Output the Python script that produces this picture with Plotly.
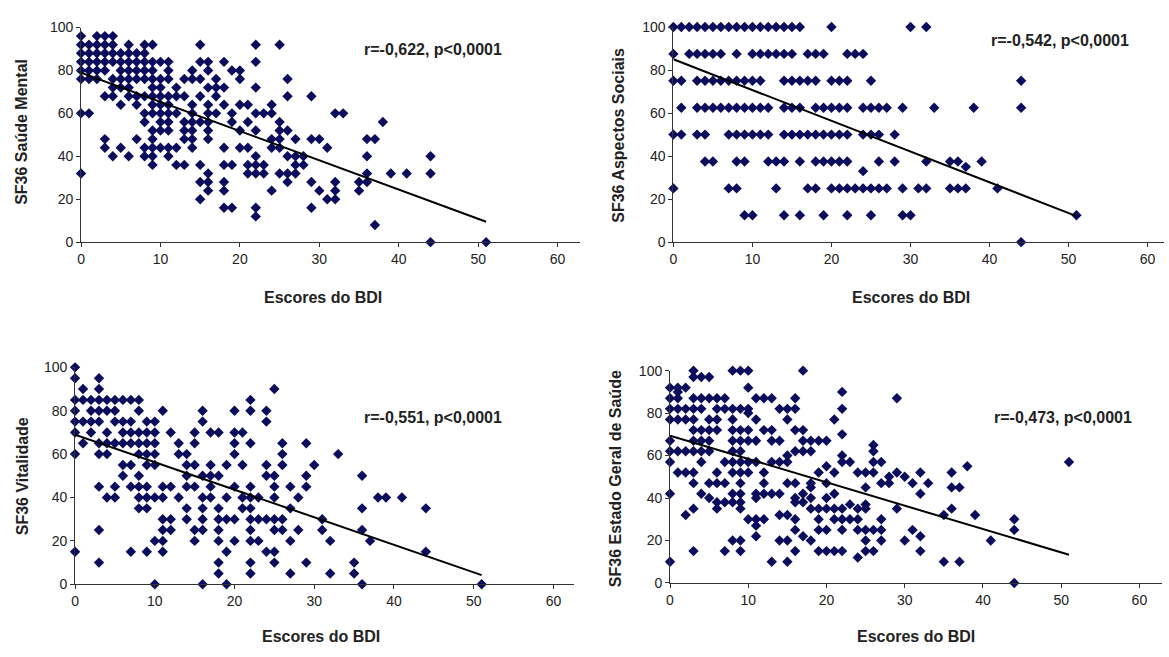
import plotly.graph_objects as go

# ---------------- DATA ----------------
# Each dict: SF36 score -> list of BDI scores having that SF36 score
mental_rows = {
    96: [0, 2, 3, 4],
    92: [0, 1, 2, 3, 4, 6, 8, 9, 15, 22, 25],
    88: [0, 1, 2, 3, 4, 5, 6, 7, 8],
    84: [0, 1, 2, 3, 4, 5, 6, 7, 8, 9, 10, 11, 15, 16, 18, 22],
    80: [0, 1, 2, 3, 5, 6, 7, 8, 9, 11, 14, 16, 19, 20],
    76: [0, 1, 2, 4, 5, 6, 7, 8, 9, 10, 11, 13, 14, 15, 17, 20, 26],
    72: [4, 5, 6, 9, 10, 12, 16, 17, 18, 22],
    68: [3, 4, 6, 7, 8, 9, 10, 11, 12, 13, 15, 17, 26, 29],
    64: [5, 7, 9, 10, 11, 14, 16, 18, 20, 21, 24],
    60: [0, 1, 8, 9, 10, 11, 12, 14, 16, 17, 19, 22, 23, 24, 32, 33],
    56: [8, 10, 11, 13, 14, 15, 16, 19, 21, 25, 38],
    52: [9, 10, 11, 13, 14, 16, 20, 22, 25, 26],
    48: [3, 7, 9, 13, 14, 16, 24, 25, 27, 29, 30, 36, 37],
    44: [3, 5, 8, 9, 10, 11, 12, 14, 18, 20, 21, 24, 25, 31],
    40: [4, 6, 8, 9, 11, 22, 26, 27, 28, 36, 44],
    36: [9, 12, 13, 15, 18, 19, 21, 22, 23, 27, 28],
    32: [0, 16, 21, 22, 23, 25, 26, 27, 36, 39, 41, 44],
    28: [15, 16, 18, 26, 29, 32, 35, 36],
    24: [16, 18, 24, 30, 32, 35],
    20: [15, 31, 32],
    16: [18, 19, 22, 29],
    12: [22],
    8: [37],
    0: [44, 51],
}

social_rows = {
    100: [0, 1, 2, 3, 4, 5, 6, 7, 8, 9, 10, 11, 12, 13, 14, 15, 16, 20, 30, 32],
    87.5: [0, 2, 3, 4, 5, 6, 8, 10, 11, 12, 13, 14, 15, 17, 18, 19, 22, 23, 24],
    75: [0, 1, 3, 4, 5, 6, 7, 8, 9, 10, 11, 14, 15, 16, 17, 18, 20, 21, 22, 25, 44],
    62.5: [1, 3, 4, 5, 6, 7, 8, 9, 10, 11, 12, 14, 15, 16, 18, 19, 20, 21, 22, 24,
           25, 26, 27, 29, 33, 38, 44],
    50: [0, 1, 3, 4, 7, 8, 9, 10, 11, 12, 14, 15, 16, 17, 18, 19, 20, 21, 22, 24,
         25, 26, 28],
    37.5: [4, 5, 8, 9, 12, 13, 14, 16, 18, 19, 20, 21, 22, 26, 28, 32, 35, 36, 39],
    35: [37],
    33: [24],
    25: [0, 7, 8, 13, 17, 18, 20, 21, 22, 23, 24, 25, 26, 27, 29, 31, 32, 35, 36,
         37, 41],
    12.5: [9, 10, 14, 16, 19, 22, 25, 29, 30, 51],
    0: [44],
}

vital_rows = {
    100: [0],
    95: [0, 3],
    90: [1, 3, 25],
    85: [0, 1, 2, 3, 4, 5, 6, 7, 8, 22],
    80: [0, 2, 3, 4, 5, 8, 11, 16, 20, 22, 24],
    75: [0, 1, 2, 3, 5, 6, 7, 9, 10, 16, 24],
    70: [0, 2, 4, 6, 7, 8, 9, 10, 12, 15, 17, 18, 20, 21],
    65: [1, 3, 4, 5, 6, 7, 8, 9, 10, 13, 15, 20, 22, 26, 29],
    60: [0, 3, 4, 8, 9, 10, 13, 14, 20, 26, 33],
    55: [6, 7, 9, 10, 14, 15, 17, 19, 21, 24, 26, 30],
    50: [6, 8, 14, 16, 17, 18, 24, 25, 29, 36],
    45: [3, 5, 7, 8, 9, 11, 12, 14, 15, 17, 20, 22, 25, 27, 29],
    40: [4, 5, 8, 9, 10, 11, 13, 16, 17, 19, 21, 22, 23, 25, 28, 38, 39, 41],
    35: [8, 9, 14, 16, 18, 21, 22, 27, 36, 44],
    30: [11, 12, 14, 16, 18, 19, 20, 22, 23, 24, 25, 26, 31],
    25: [3, 11, 12, 15, 16, 18, 22, 25, 26, 28, 31, 36],
    20: [10, 11, 15, 18, 20, 22, 23, 27, 32, 37],
    15: [0, 7, 9, 11, 19, 24, 25, 44],
    10: [3, 18, 22, 25, 29, 35],
    5: [18, 22, 27, 32, 35],
    0: [10, 16, 19, 36, 51],
}

general_rows = {
    100: [3, 8, 9, 10, 17],
    97: [3, 4, 5],
    92: [0, 1, 2, 10],
    90: [1, 22],
    87: [0, 1, 3, 4, 5, 6, 7, 11, 12, 13, 16, 29],
    82: [0, 1, 2, 3, 4, 6, 7, 8, 9, 10, 14, 15, 16, 22],
    80: [10],
    77: [0, 1, 2, 3, 5, 6, 8, 11, 15, 21],
    72: [3, 4, 5, 6, 8, 9, 10, 12, 13, 16, 17],
    70: [22],
    67: [0, 3, 4, 5, 8, 9, 10, 11, 13, 14, 17, 18, 19, 20],
    65: [26],
    62: [0, 1, 2, 3, 4, 5, 8, 9, 16, 17, 18, 26],
    60: [15, 22],
    57: [0, 4, 7, 8, 9, 10, 11, 13, 14, 15, 22, 23, 26, 27, 51],
    55: [20, 38],
    52: [1, 2, 3, 6, 8, 9, 10, 12, 19, 21, 24, 25, 26, 29, 32, 36],
    50: [28, 30],
    47: [3, 5, 6, 7, 9, 12, 15, 16, 18, 20, 27, 28, 31, 33],
    45: [18, 25, 36, 37],
    42: [0, 4, 8, 9, 11, 12, 13, 14, 17, 21, 32],
    40: [5, 11, 16, 18, 20],
    38: [6, 7, 8, 9, 16, 17],
    37: [23, 25],
    35: [3, 6, 9, 18, 19, 20, 21, 22, 24, 25, 29, 36],
    32: [2, 14, 15, 35, 39],
    30: [10, 11, 12, 16, 19, 21, 22, 23, 24, 27, 44],
    27: [11],
    25: [16, 19, 20, 22, 24, 25, 26, 27, 31, 44],
    22: [11, 17, 32],
    20: [8, 9, 14, 15, 18, 25, 27, 30, 41],
    15: [3, 7, 9, 16, 19, 20, 21, 22, 25, 26, 32],
    12: [24],
    10: [0, 13, 15, 35, 37],
    0: [44],
}

# Linear trend lines (intercept, slope)
fit_mental = (79.0, -1.363)
fit_social = (85.0, -1.43)
fit_vital = (69.0, -1.27)
fit_general = (69.4, -1.10)

y_titles = ["SF36 Saúde Mental", "SF36 Aspectos Sociais",
            "SF36 Vitalidade", "SF36 Estado Geral de Saúde"]
x_title = "Escores do BDI"
stats_labels = ["r=-0,622, p<0,0001", "r=-0,542, p<0,0001",
                "r=-0,551, p<0,0001", "r=-0,473, p<0,0001"]
x_ticks = [0, 10, 20, 30, 40, 50, 60]
y_ticks = [0, 20, 40, 60, 80, 100]

# ---------------- LAYOUT GEOMETRY (pixels) ----------------
W, H = 1169, 657
# (x of x=0, px per unit, x pixel where axis ends, y pixel of y=0, y pixel of y=100)
panels_px = [
    (77.3, 7.97, 577.7, 240.0, 20.0),
    (671.7, 7.93, 1164.0, 240.0, 19.5),
    (71.3, 8.0, 572.0, 590.7, 368.3),
    (668.3, 7.85, 1161.7, 589.3, 371.7),
]

FONT = "Liberation Sans Narrow, Arial Narrow, Liberation Sans, Arial, sans-serif"
MARK = "#0c0c5c"
AXC = "#333333"

fig = go.Figure()
rows_all = [mental_rows, social_rows, vital_rows, general_rows]
fits = [fit_mental, fit_social, fit_vital, fit_general]
stat_pos = [(430, 43), (1060, 33), (430, 420), (1063, 420)]

layout_axes = {}
for i, (rows, fit, (x0, ppu, x_end, yb, yt)) in enumerate(zip(rows_all, fits, panels_px)):
    n = i + 1
    xs, ys = [], []
    for yv, xl in rows.items():
        for xv in xl:
            xs.append(xv)
            ys.append(yv)
    xa = "x" if n == 1 else f"x{n}"
    ya = "y" if n == 1 else f"y{n}"
    fig.add_trace(go.Scatter(
        x=xs, y=ys, mode="markers", xaxis=xa, yaxis=ya,
        marker=dict(symbol="diamond", size=8, color=MARK, line=dict(width=0)),
        showlegend=False, cliponaxis=False))
    b0, b1 = fit
    xl_ = [0, max(xs)]
    fig.add_trace(go.Scatter(
        x=xl_, y=[b0 + b1 * v for v in xl_], mode="lines", xaxis=xa, yaxis=ya,
        line=dict(color="black", width=2), showlegend=False))

    x_max = (x_end - x0) / ppu
    xdom = [x0 / W, min(x_end / W, 1.0)]
    ydom = [1 - yb / H, 1 - yt / H]
    key_x = "xaxis" if n == 1 else f"xaxis{n}"
    key_y = "yaxis" if n == 1 else f"yaxis{n}"
    layout_axes[key_x] = dict(
        domain=xdom, range=[0, x_max], anchor=ya, tickvals=x_ticks,
        showgrid=False, zeroline=False, showline=True, linecolor=AXC, linewidth=1,
        ticks="outside", ticklen=4, tickcolor=AXC,
        tickfont=dict(family=FONT, size=14, color="#222"))
    layout_axes[key_y] = dict(
        domain=ydom, range=[0, 100], anchor=xa, tickvals=y_ticks,
        showgrid=False, zeroline=False, showline=True, linecolor=AXC, linewidth=1,
        ticks="outside", ticklen=4, tickcolor=AXC,
        tickfont=dict(family=FONT, size=14, color="#222"))

annotations = []
ytitle_pos = [(18, 127), (617, 130), (18, 480), (613, 482)]
xtitle_pos = [(320, 297), (910, 297), (318, 644), (915, 644)]
for i in range(4):
    tx, ty = ytitle_pos[i]
    annotations.append(dict(
        text=y_titles[i], x=tx / W, y=1 - ty / H, xref="paper", yref="paper",
        textangle=-90, showarrow=False, xanchor="center", yanchor="middle",
        font=dict(family=FONT, size=16, color="#222", weight="bold")))
    tx, ty = xtitle_pos[i]
    annotations.append(dict(
        text=x_title, x=tx / W, y=1 - ty / H, xref="paper", yref="paper",
        showarrow=False, xanchor="center", yanchor="middle",
        font=dict(family=FONT, size=16, color="#222", weight="bold")))
    tx, ty = stat_pos[i]
    annotations.append(dict(
        text=stats_labels[i], x=tx / W, y=1 - ty / H, xref="paper", yref="paper",
        showarrow=False, xanchor="center", yanchor="middle",
        font=dict(family=FONT, size=16, color="#222", weight="bold")))

fig.update_layout(
    width=W, height=H, margin=dict(l=0, r=0, t=0, b=0),
    paper_bgcolor="white", plot_bgcolor="white",
    annotations=annotations, **layout_axes)

# remove the default 8px page margin so the figure sits at the window origin
fig.write_html(
    "out.html",
    config={"displayModeBar": False},
    post_script="document.body.style.margin='0';"
                "document.documentElement.style.overflow='hidden';")
